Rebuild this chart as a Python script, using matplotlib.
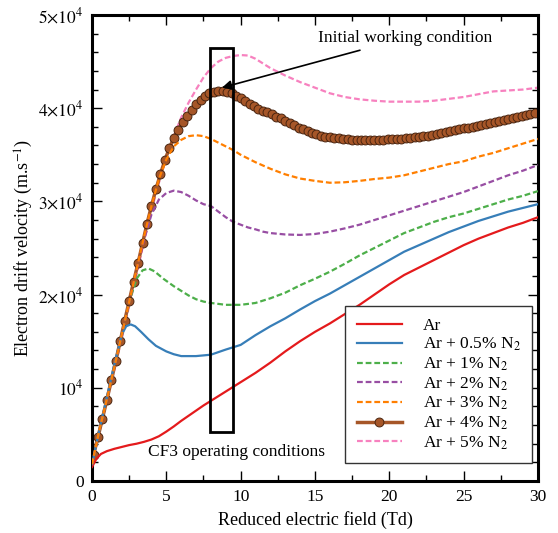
import numpy as np
import matplotlib
matplotlib.use("Agg")
import matplotlib.pyplot as plt
from matplotlib.ticker import MultipleLocator, FixedLocator, FixedFormatter
from matplotlib.patches import Rectangle

plt.rcParams['font.family'] = ['Liberation Serif', 'DejaVu Serif']
plt.rcParams['mathtext.fontset'] = 'stix'

# ---------------- data (drift velocity in units of 1e4 m/s) ----------------
x_ar = [0, 0.3, 0.6, 1.0, 1.5, 2.0, 2.5, 3.0, 3.5, 4.0, 4.5, 5.0, 5.5, 6.0, 6.5, 7.0,
        7.5, 8.0, 9.0, 10.0, 11.0, 12.0, 13.0, 14.0, 15.0, 16.0, 17.0, 18.0, 19.0,
        20.0, 21.0, 22.0, 23.0, 24.0, 25.0, 26.0, 27.0, 28.0, 29.0, 30.0]
v_ar = [0.15, 0.24, 0.29, 0.32, 0.345, 0.365, 0.385, 0.40, 0.42, 0.445, 0.48, 0.53,
        0.585, 0.645, 0.70, 0.755, 0.81, 0.86, 0.96, 1.06, 1.16, 1.27, 1.39, 1.50,
        1.60, 1.69, 1.79, 1.89, 2.00, 2.11, 2.21, 2.29, 2.37, 2.45, 2.53, 2.60, 2.66,
        2.72, 2.77, 2.83]

x_n05 = [0, 0.5, 1.0, 1.5, 2.0, 2.3, 2.6, 2.9, 3.3, 3.8, 4.3, 5.0, 5.5, 6.0, 7.0, 8.0,
         9.0, 10.0, 11.0, 12.0, 13.0, 14.0, 15.0, 16.0, 17.0, 18.0, 19.0, 20.0, 21.0,
         22.0, 23.0, 24.0, 25.0, 26.0, 27.0, 28.0, 29.0, 30.0]
v_n05 = [0.18, 0.55, 0.90, 1.25, 1.57, 1.66, 1.68, 1.66, 1.60, 1.52, 1.45, 1.39, 1.36,
         1.34, 1.34, 1.355, 1.41, 1.46, 1.565, 1.66, 1.745, 1.84, 1.93, 2.01, 2.10,
         2.19, 2.28, 2.37, 2.46, 2.53, 2.60, 2.67, 2.73, 2.79, 2.84, 2.89, 2.93, 2.97]

x_n1 = [0, 0.5, 1.0, 1.5, 2.0, 2.5, 3.0, 3.4, 3.8, 4.2, 4.8, 5.5, 6.0, 6.5, 7.0, 7.5,
        8.0, 9.0, 10.0, 11.0, 12.0, 13.0, 14.0, 15.0, 16.0, 17.0, 18.0, 19.0, 20.0,
        21.0, 22.0, 23.0, 24.0, 25.0, 26.0, 27.0, 28.0, 29.0, 30.0]
v_n1 = [0.18, 0.55, 0.88, 1.22, 1.57, 1.92, 2.17, 2.26, 2.28, 2.25, 2.17, 2.09, 2.04,
        1.99, 1.95, 1.925, 1.91, 1.89, 1.89, 1.91, 1.96, 2.02, 2.10, 2.17, 2.245, 2.33,
        2.42, 2.50, 2.58, 2.66, 2.72, 2.78, 2.83, 2.87, 2.92, 2.97, 3.02, 3.06, 3.11]

x_n2 = [0, 0.5, 1.0, 1.5, 2.0, 2.5, 3.0, 3.5, 4.0, 4.5, 5.0, 5.5, 6.0, 6.5, 7.0, 7.5,
        8.0, 8.5, 9.0, 9.5, 10.0, 10.5, 11.0, 11.5, 12.0, 13.0, 14.0, 15.0, 16.0, 17.0,
        18.0, 19.0, 20.0, 21.0, 22.0, 23.0, 24.0, 25.0, 26.0, 27.0, 28.0, 29.0, 30.0]
v_n2 = [0.18, 0.55, 0.88, 1.22, 1.57, 1.92, 2.26, 2.59, 2.86, 3.02, 3.09, 3.115, 3.10,
        3.06, 3.01, 2.97, 2.95, 2.89, 2.83, 2.78, 2.75, 2.72, 2.70, 2.675, 2.66, 2.645,
        2.64, 2.65, 2.675, 2.71, 2.75, 2.80, 2.85, 2.90, 2.95, 3.00, 3.05, 3.10, 3.16,
        3.22, 3.28, 3.33, 3.39]

x_n3 = [0, 0.5, 1.0, 1.5, 2.0, 2.5, 3.0, 3.5, 4.0, 4.5, 5.0, 5.5, 6.0, 6.5, 7.0, 7.5,
        8.0, 8.5, 9.0, 9.5, 10.0, 11.0, 12.0, 13.0, 14.0, 15.0, 16.0, 17.0, 18.0, 19.0,
        20.0, 21.0, 22.0, 23.0, 24.0, 25.0, 26.0, 27.0, 28.0, 29.0, 30.0]
v_n3 = [0.18, 0.55, 0.88, 1.22, 1.57, 1.92, 2.27, 2.62, 2.95, 3.24, 3.45, 3.59, 3.66,
        3.70, 3.71, 3.70, 3.67, 3.63, 3.59, 3.55, 3.50, 3.42, 3.35, 3.29, 3.245, 3.22,
        3.20, 3.205, 3.22, 3.24, 3.255, 3.28, 3.32, 3.36, 3.40, 3.43, 3.48, 3.52, 3.57,
        3.62, 3.67]

x_n4 = np.round(np.arange(0.1, 30.0, 0.3), 2)
v_n4 = [0.28, 0.47, 0.67, 0.87, 1.08, 1.29, 1.50, 1.72, 1.93, 2.14,
        2.34, 2.55, 2.76, 2.95, 3.13, 3.29, 3.44, 3.57, 3.68, 3.77,
        3.85, 3.92, 3.985, 4.04, 4.09, 4.13, 4.16, 4.175, 4.18, 4.18,
        4.17, 4.16, 4.135, 4.11, 4.08, 4.05, 4.02, 3.995, 3.97, 3.955,
        3.935, 3.91, 3.89, 3.865, 3.845, 3.815, 3.79, 3.775, 3.755, 3.735,
        3.72, 3.705, 3.695, 3.69, 3.68, 3.675, 3.67, 3.665, 3.66, 3.66,
        3.66, 3.66, 3.655, 3.655, 3.66, 3.66, 3.665, 3.665, 3.665, 3.67,
        3.675, 3.68, 3.69, 3.695, 3.70, 3.705, 3.715, 3.725, 3.735, 3.745,
        3.755, 3.765, 3.775, 3.785, 3.79, 3.80, 3.81, 3.82, 3.83, 3.845,
        3.855, 3.865, 3.875, 3.885, 3.895, 3.905, 3.915, 3.925, 3.935, 3.945]

x_n5 = [0, 0.5, 1.0, 1.5, 2.0, 2.5, 3.0, 3.5, 4.0, 4.5, 5.0, 5.5, 6.0, 6.5, 7.0, 7.5,
        8.0, 8.5, 9.0, 9.5, 10.0, 10.5, 11.0, 11.5, 12.0, 13.0, 14.0, 15.0, 16.0, 17.0,
        18.0, 19.0, 20.0, 21.0, 22.0, 23.0, 24.0, 25.0, 26.0, 27.0, 28.0, 29.0, 30.0]
v_n5 = [0.18, 0.53, 0.86, 1.19, 1.53, 1.88, 2.22, 2.57, 2.90, 3.20, 3.47, 3.70, 3.90,
        4.06, 4.20, 4.33, 4.43, 4.50, 4.54, 4.56, 4.57, 4.565, 4.53, 4.48, 4.43, 4.35,
        4.28, 4.22, 4.16, 4.12, 4.095, 4.08, 4.07, 4.07, 4.07, 4.08, 4.10, 4.12, 4.15,
        4.18, 4.19, 4.20, 4.22]

labels = ["Ar", "Ar + 0.5% N$_2$", "Ar + 1% N$_2$", "Ar + 2% N$_2$",
          "Ar + 3% N$_2$", "Ar + 4% N$_2$", "Ar + 5% N$_2$"]
yticks = [0, 1, 2, 3, 4, 5]
yticklabels = ["0", r"$10^4$", r"$2{\times}10^4$", r"$3{\times}10^4$",
               r"$4{\times}10^4$", r"$5{\times}10^4$"]

SCALE = 1e4
fig = plt.figure(figsize=(5.58, 5.33), dpi=100)
ax = fig.add_axes([0.1649, 0.0976, 0.7991, 0.8743])

dash = (0, (2.6, 1.3))
ax.plot(x_ar, np.array(v_ar) * SCALE, color='#e41a1c', lw=1.6, label=labels[0], zorder=3)
ax.plot(x_n05, np.array(v_n05) * SCALE, color='#377eb8', lw=1.6, label=labels[1], zorder=3)
ax.plot(x_n1, np.array(v_n1) * SCALE, color='#4daf4a', lw=1.6, ls=dash, label=labels[2], zorder=3)
ax.plot(x_n2, np.array(v_n2) * SCALE, color='#984ea3', lw=1.6, ls=dash, label=labels[3], zorder=3)
ax.plot(x_n3, np.array(v_n3) * SCALE, color='#ff7f00', lw=1.6, ls=dash, label=labels[4], zorder=4)
ax.plot(x_n4, np.array(v_n4) * SCALE, color='#a65628', lw=2.5, marker='o', ms=6.4,
        mfc='#a65628', mec='#4a2510', mew=0.7, label=labels[5], zorder=2)
ax.plot(x_n5, np.array(v_n5) * SCALE, color='#f781bf', lw=1.6, ls=dash, label=labels[6], zorder=1)

ax.set_xlim(0, 30)
ax.set_ylim(0, 5 * SCALE)
ax.xaxis.set_major_locator(MultipleLocator(5))
ax.xaxis.set_minor_locator(MultipleLocator(2.5))
ax.yaxis.set_major_locator(FixedLocator([t * SCALE for t in yticks]))
ax.yaxis.set_major_formatter(FixedFormatter(yticklabels))
ax.yaxis.set_minor_locator(MultipleLocator(0.2 * SCALE))
ax.tick_params(which='both', direction='in', top=True, right=True, labelsize=12.5, width=1)
ax.tick_params(which='major', length=7, pad=6)
ax.tick_params(which='minor', length=4)
for s in ax.spines.values():
    s.set_linewidth(2.2)

ax.set_xlabel("Reduced electric field (Td)", fontsize=13, labelpad=4)
ax.set_ylabel("Electron drift velocity (m.s$^{-1}$)", fontsize=13)
ax.yaxis.set_label_coords(-0.128, 0.5)

rect = Rectangle((7.95, 0.526 * SCALE), 1.55, 4.12 * SCALE, fill=False, ec='black', lw=2, zorder=6)
ax.add_patch(rect)

ax.annotate("Initial working condition", xy=(8.74, 4.22 * SCALE), xytext=(15.2, 4.753 * SCALE),
            fontsize=12.5, va='center', ha='left',
            arrowprops=dict(arrowstyle='-|>', color='black', lw=1.2, mutation_scale=14,
                            shrinkA=4, shrinkB=0))
ax.text(3.77, 0.311 * SCALE, "CF3 operating conditions", fontsize=12.5, va='center', ha='left')

leg = ax.legend(loc='lower right', bbox_to_anchor=(0.9865, 0.0386), fontsize=12.5, frameon=True,
                fancybox=False, edgecolor='#333333', framealpha=1, handlelength=2.6,
                handletextpad=1.2, labelspacing=0.13, borderpad=0.65, borderaxespad=0)
leg.get_frame().set_linewidth(1)

fig.savefig("out.png", dpi=100)
